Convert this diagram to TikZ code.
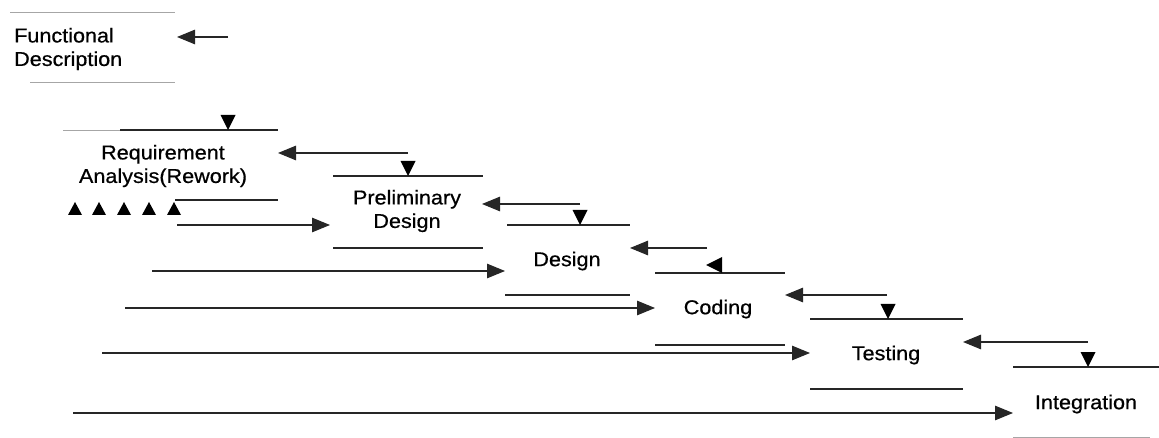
\documentclass[tikz,border=0pt]{standalone}
\usepackage{fontspec}
\setmainfont{Liberation Sans}[FakeStretch=1.08,FakeBold=0.6]
\usetikzlibrary{arrows.meta}
\begin{document}
\begin{tikzpicture}[x=1pt,y=-1pt,
  stage/.style={font=\fontsize{20}{23.5}\selectfont, align=center, inner sep=0pt},
  rule/.style={line width=1.1pt, draw=black!85},
  faint/.style={line width=0.8pt, draw=black!35},
  flow/.style={line width=1.1pt, draw=black!85, -{Triangle[length=18pt,width=14.5pt]}},
  downmark/.pic={\fill[black] (0,0) -- (-7.5,-15) -- (7.5,-15) -- cycle;},
  upmark/.pic={\fill[black] (0,0) -- (-7,13) -- (7,13) -- cycle;},
  leftmark/.pic={\fill[black] (0,0) -- (16,-8) -- (16,8) -- cycle;}]
\useasboundingbox (0,0) rectangle (1159,438);

% ---- stage labels
\node[stage, align=left, anchor=west] (fd) at (14,49) {Functional\\Description};
\node[stage] (req)  at (163,166) {Requirement\\Analysis(Rework)};
\node[stage] (pre)  at (407,211) {Preliminary\\Design};
\node[stage] (des)  at (567,261) {Design};
\node[stage] (cod)  at (718,309) {Coding};
\node[stage] (tst)  at (886,355) {Testing};
\node[stage] (intg) at (1086,404) {Integration};

% ---- bracket rules above and below each stage
\draw[faint] (10,12) -- (175,12);
\draw[faint] (30,82) -- (175,82);

\draw[faint] (63,130) -- (120,130);
\draw[rule] (120,130) -- (278,130);
\draw[rule] (175,200) -- (278,200);

\draw[rule] (333,176) -- (483,176);
\draw[rule] (333,248) -- (483,248);

\draw[rule] (507,225) -- (630,225);
\draw[rule] (505,295) -- (630,295);

\draw[rule] (655,273) -- (785,273);
\draw[rule] (655,345) -- (785,345);

\draw[rule] (810,319) -- (963,319);
\draw[rule] (810,389) -- (963,389);

\draw[rule] (1013,367) -- (1159,367);
\draw[faint] (1013,437) -- (1150,437);

% ---- markers on the rules
\pic at (228,130) {downmark};
\pic at (408,176) {downmark};
\pic at (580,225) {downmark};
\pic at (706,265) {leftmark};
\pic at (888,319) {downmark};
\pic at (1088,367) {downmark};
\foreach \x in {75,99,124,149,174} \pic at (\x,202) {upmark};

% ---- connector end points
\coordinate (fd-in)   at (177,37);
\coordinate (fd-src)  at (228,37);
\coordinate (req-in)  at (278,153);
\coordinate (req-src) at (408,153);
\coordinate (pre-in)  at (482,204);
\coordinate (pre-src) at (580,204);
\coordinate (des-in)  at (630,248);
\coordinate (des-src) at (707,248);
\coordinate (cod-in)  at (785,295);
\coordinate (cod-src) at (887,295);
\coordinate (tst-in)  at (963,342);
\coordinate (tst-src) at (1088,342);

\coordinate (f1) at (177,225);  \coordinate (pre-w)  at (330,225);
\coordinate (f2) at (152,271);  \coordinate (des-w)  at (505,271);
\coordinate (f3) at (125,308);  \coordinate (cod-w)  at (655,308);
\coordinate (f4) at (102,353);  \coordinate (tst-w)  at (810,353);
\coordinate (f5) at (73,413);   \coordinate (intg-w) at (1013,413);

% ---- feedback arrows (right to left)
\draw[flow] (fd-src)  -- (fd-in);
\draw[flow] (req-src) -- (req-in);
\draw[flow] (pre-src) -- (pre-in);
\draw[flow] (des-src) -- (des-in);
\draw[flow] (cod-src) -- (cod-in);
\draw[flow] (tst-src) -- (tst-in);

% ---- forward arrows (left to right)
\draw[flow] (f1) -- (pre-w);
\draw[flow] (f2) -- (des-w);
\draw[flow] (f3) -- (cod-w);
\draw[flow] (f4) -- (tst-w);
\draw[flow] (f5) -- (intg-w);
\end{tikzpicture}
\end{document}
